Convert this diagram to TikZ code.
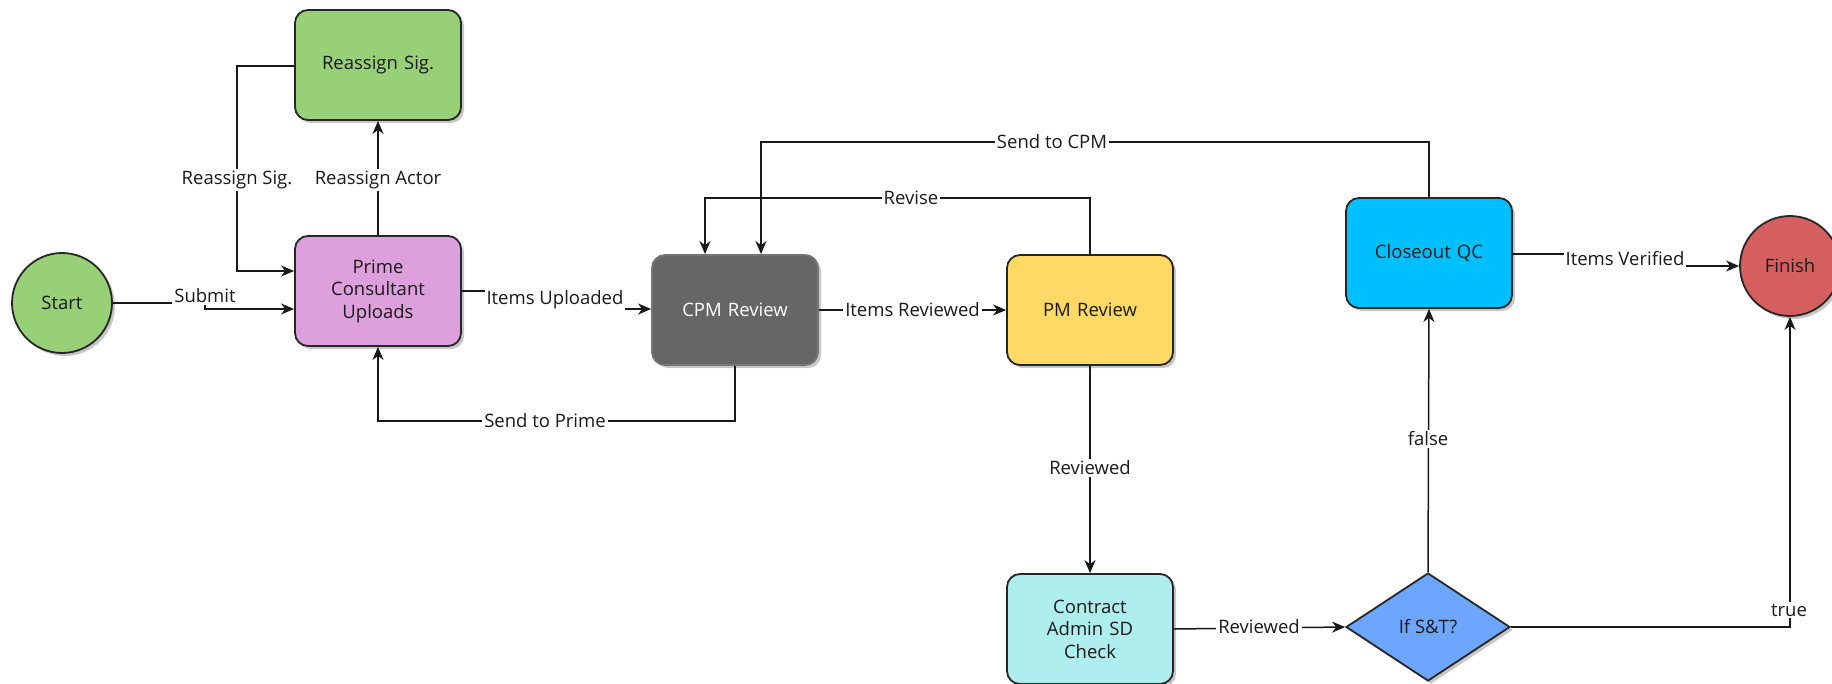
\documentclass[tikz,border=0pt]{standalone}
\usepackage{fontspec}
\setmainfont{Open Sans}
\usetikzlibrary{arrows.meta,shapes.geometric,shadows}
\definecolor{cgreen}{HTML}{97D077}
\definecolor{cplum}{HTML}{DDA0DD}
\definecolor{cgray}{HTML}{666666}
\definecolor{cyellow}{HTML}{FFD966}
\definecolor{csky}{HTML}{00BFFF}
\definecolor{cred}{HTML}{D55E5E}
\definecolor{cturq}{HTML}{AFEEEE}
\definecolor{cblue}{HTML}{6CA6FF}
\definecolor{ctext}{HTML}{1A1A1A}
\tikzset{
  every node/.style={font=\fontsize{18.5}{22.5}\selectfont, text=ctext},
  shad/.style={drop shadow={shadow xshift=3pt, shadow yshift=-3pt, opacity=0.22, fill=black}},
  box/.style={draw=black!85, line width=1.8pt, rounded corners=13pt, minimum width=166pt,
              minimum height=110pt, inner sep=2pt, align=center, text width=150pt, shad},
  roundnode/.style={circle, draw=black!85, line width=1.8pt, minimum size=100pt, inner sep=0pt, shad},
  decision/.style={diamond, draw=black!85, line width=1.8pt, minimum width=164pt, minimum height=108pt,
                   inner sep=0pt, aspect=1.5, shad},
  conn/.style={draw=black!90, line width=1.5pt},
  arr/.style={conn, -{Stealth[length=13pt, width=11pt, inset=4pt]}},
  lbl/.style={fill=white, inner xsep=2pt, inner ysep=1.5pt},
  tall/.style={inner ysep=5pt},
}
\begin{document}
\begin{tikzpicture}[x=1pt, y=-1pt]
\fill[white] (0,0) rectangle (1832,683);
\useasboundingbox (0,0) rectangle (1832,683);

% nodes
\node[roundnode, fill=cgreen] (start) at (62,303) {Start};
\node[box, fill=cgreen] (reassign) at (378,65) {Reassign Sig.};
\node[box, fill=cplum] (prime) at (378,291) {Prime\\Consultant\\Uploads};
\node[box, fill=cgray, draw=cgray!90] (cpm) at (735,310) {\color{white}CPM Review};
\node[box, fill=cyellow] (pm) at (1090,310) {PM Review};
\node[box, fill=csky] (closeout) at (1429,253) {Closeout QC};
\node[roundnode, fill=cred] (finish) at (1790,266) {Finish};
\node[box, fill=cturq] (contract) at (1090,629) {Contract\\Admin SD\\Check};
\node[decision, fill=cblue] (dec) at (1428,627) {If S\&T?};

% helper coordinates
\coordinate (subA) at (205,303);
\coordinate (subB) at (205,309);
\coordinate (upA) at (555,291);
\coordinate (upB) at (555,309);
\coordinate (sp) at (735,421);
\coordinate (rv) at (705,198);
\coordinate (sc) at (761,142);
\coordinate (rs) at (237,66);
\coordinate (rsB) at (237,271);
\coordinate (ivA) at (1625,254);
\coordinate (ivB) at (1625,266);
\coordinate (tr) at (1790,627);

% connectors
\draw[arr] (start.east) -- (subA) -- (subB) -- (subB -| prime.west);
\node[lbl] (lsub) at (205,296) {Submit};

\draw[arr] (prime.east |- upA) -- (upA) -- (upB) -- (upB -| cpm.west);
\node[lbl, tall] (lup) at (555,300) {Items Uploaded};

\draw[arr] (cpm.south) -- (sp) -| (prime.south);
\node[lbl] (lsp) at (545,421) {Send to Prime};

\draw[arr] (cpm.east) -- (pm.west) node[lbl, midway] (lir) {Items Reviewed};

\draw[arr] (pm.north) |- (rv) -- (rv |- cpm.north);
\node[lbl] (lrv) at (911,198) {Revise};

\draw[arr] (closeout.north) |- (sc) -- (sc |- cpm.north);
\node[lbl] (lsc) at (1052,142) {Send to CPM};

\draw[arr] (pm.south) -- (contract.north);
\node[lbl] (lrev1) at (1090,468) {Reviewed};

\draw[arr] (contract.east) -- (dec.west);
\node[lbl] (lrev2) at (1259,627) {Reviewed};

\draw[arr] (dec.north) -- (closeout.south);
\node[lbl] (lfalse) at (1428,439) {false};

\draw[arr] (dec.east) -- (tr) -- (finish.south);
\node[lbl] (ltrue) at (1789,610) {true};

\draw[arr] (closeout.east |- ivA) -- (ivA) -- (ivB) -- (finish.west);
\node[lbl, tall] (liv) at (1625,259) {Items Verified};

\draw[arr] (prime.north) -- (reassign.south);
\node[lbl] (lra) at (378,180) {Reassign Actor};

\draw[arr] (reassign.west |- rs) -- (rs) -- (rsB) -- (rsB -| prime.west);
\node[lbl] (lrs) at (237,180) {Reassign Sig.};
\end{tikzpicture}
\end{document}
